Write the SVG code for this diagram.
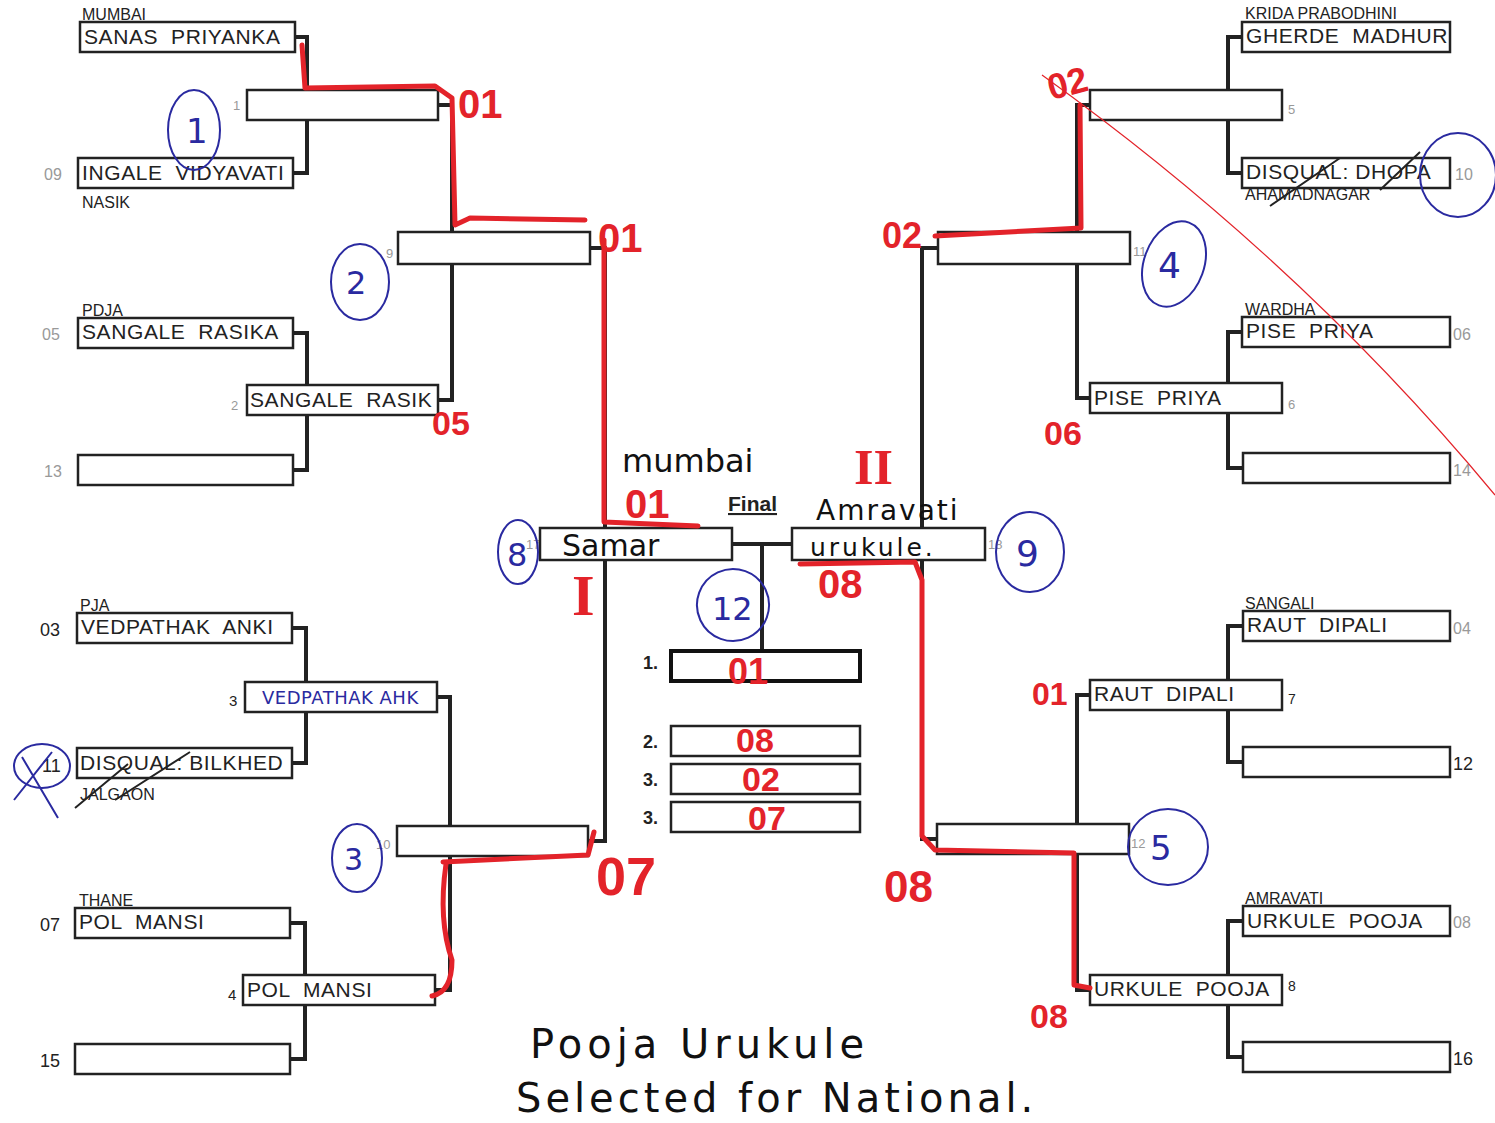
<svg xmlns="http://www.w3.org/2000/svg" width="1495" height="1123" viewBox="0 0 1495 1123">
<style>
.bx{fill:#fff;stroke:#222;stroke-width:2.5}
.bw{fill:#fff;stroke:#111;stroke-width:4}
.nm{font-family:"Liberation Sans",Arial,sans-serif;font-size:21px;letter-spacing:0.6px;fill:#222;white-space:pre}
.ct{font-family:"Liberation Sans",Arial,sans-serif;font-size:16px;fill:#222}
.sd{font-family:"Liberation Sans",Arial,sans-serif;font-size:16px;fill:#999}
.sk{font-family:"Liberation Sans",Arial,sans-serif;font-size:18px;fill:#222}
.sm{font-family:"Liberation Sans",Arial,sans-serif;font-size:13px;fill:#999}
.cn{fill:none;stroke:#222;stroke-width:4}
.rd{fill:none;stroke:#e3232a;stroke-width:5;stroke-linecap:round;stroke-linejoin:round}
.rt{font-family:"Liberation Sans",Arial,sans-serif;font-weight:bold;fill:#e3232a}
.bc{fill:none;stroke:#2a2aa0;stroke-width:2}
.bt{font-family:"DejaVu Sans",sans-serif;fill:#2a2aa0}
.hw{font-family:"DejaVu Sans",sans-serif;fill:#111}
</style>
<rect width="1495" height="1123" fill="#fff"/>
<g id="connectors">
<path class="cn" d="M295,37 H307 V173 H293"/>
<path class="cn" d="M293,333 H307 V470 H293"/>
<path class="cn" d="M292,628 H306 V763 H292"/>
<path class="cn" d="M290,923 H305 V1059 H290"/>
<path class="cn" d="M438,105 H452 V400 H438"/>
<path class="cn" d="M437,697 H450 V990 H435"/>
<path class="cn" d="M590,248 H605 V841 H588"/>
<path class="cn" d="M1242,37 H1228 V173 H1242"/>
<path class="cn" d="M1242,332 H1228 V468 H1243"/>
<path class="cn" d="M1243,626 H1228 V762 H1243"/>
<path class="cn" d="M1243,921 H1228 V1057 H1243"/>
<path class="cn" d="M1090,105 H1077 V398 H1090"/>
<path class="cn" d="M1090,695 H1077 V990 H1090"/>
<path class="cn" d="M938,248 H922 V839 H937"/>
<path class="cn" d="M732,544 H792"/>
<path class="cn" d="M762,544 V650"/>
</g>
<g id="left-r1">
<g id="n-sanas"><text class="ct" x="82" y="20">MUMBAI</text><rect class="bx" x="80" y="22" width="215" height="30"/><text class="nm" x="84" y="44">SANAS  PRIYANKA</text></g>
<g id="n-ingale"><text class="sd" x="44" y="180">09</text><rect class="bx" x="78" y="158" width="215" height="30"/><text class="nm" x="82" y="180">INGALE  VIDYAVATI</text><text class="ct" x="82" y="208">NASIK</text></g>
<g id="n-sangale"><text class="ct" x="82" y="316">PDJA</text><text class="sd" x="42" y="340">05</text><rect class="bx" x="78" y="318" width="215" height="30"/><text class="nm" x="82" y="339">SANGALE  RASIKA</text></g>
<g id="n-13"><text class="sd" x="44" y="477">13</text><rect class="bx" x="78" y="455" width="215" height="30"/></g>
<g id="n-vedpathak"><text class="ct" x="80" y="611">PJA</text><text class="sk" x="40" y="636">03</text><rect class="bx" x="77" y="613" width="215" height="30"/><text class="nm" x="81" y="634">VEDPATHAK  ANKI</text></g>
<g id="n-bilkhed"><text class="sk" x="42" y="772">11</text><rect class="bx" x="77" y="748" width="215" height="30"/><text class="nm" x="80" y="770">DISQUAL: BILKHED</text><text class="ct" x="80" y="800">JALGAON</text></g>
<g id="n-pol"><text class="ct" x="79" y="906">THANE</text><text class="sk" x="40" y="931">07</text><rect class="bx" x="75" y="908" width="215" height="30"/><text class="nm" x="79" y="929">POL  MANSI</text></g>
<g id="n-15"><text class="sk" x="40" y="1067">15</text><rect class="bx" x="75" y="1044" width="215" height="30"/></g>
</g>
<g id="left-r2">
<g id="n-1"><text class="sm" x="233" y="110">1</text><rect class="bx" x="247" y="90" width="191" height="30"/></g>
<g id="n-2"><text class="sm" x="231" y="410">2</text><rect class="bx" x="247" y="385" width="191" height="30"/><text class="nm" x="250" y="407">SANGALE  RASIK</text></g>
<g id="n-3"><text class="sk" x="229" y="706" style="font-size:15px">3</text><rect class="bx" x="245" y="682" width="192" height="30"/><text class="bt" x="262" y="704" style="font-size:18px;letter-spacing:0.5px">VEDPATHAK AHK</text></g>
<g id="n-4"><text class="sk" x="228" y="1000" style="font-size:15px">4</text><rect class="bx" x="243" y="975" width="192" height="30"/><text class="nm" x="247" y="997">POL  MANSI</text></g>
</g>
<g id="left-r3">
<g id="n-9"><text class="sm" x="386" y="258">9</text><rect class="bx" x="398" y="232" width="192" height="32"/></g>
<g id="n-10"><text class="sm" x="376" y="849">10</text><rect class="bx" x="397" y="826" width="191" height="30"/></g>
</g>
<g id="final">
<text x="728" y="511" style="font-family:'Liberation Sans',Arial,sans-serif;font-weight:bold;font-size:21px;text-decoration:underline;fill:#222">Final</text>
<g id="n-17"><text class="sm" x="526" y="549">17</text><rect class="bx" x="540" y="528" width="192" height="32"/><text class="hw" x="562" y="556" style="font-size:30px">Samar</text></g>
<g id="n-18"><rect class="bx" x="792" y="528" width="193" height="32"/><text class="hw" x="810" y="556" style="font-size:25px;letter-spacing:3px">urukule.</text><text class="sm" x="988" y="549">18</text></g>
<g id="n-p1"><text class="sk" x="643" y="669" style="font-weight:bold">1.</text><rect class="bw" x="671" y="651" width="189" height="30"/></g>
<g id="n-p2"><text class="sk" x="643" y="748" style="font-weight:bold">2.</text><rect class="bx" x="671" y="726" width="189" height="30"/></g>
<g id="n-p3a"><text class="sk" x="643" y="786" style="font-weight:bold">3.</text><rect class="bx" x="671" y="764" width="189" height="30"/></g>
<g id="n-p3b"><text class="sk" x="643" y="824" style="font-weight:bold">3.</text><rect class="bx" x="671" y="802" width="189" height="30"/></g>
</g>
<g id="right-r3">
<g id="n-11"><rect class="bx" x="938" y="232" width="192" height="32"/><text class="sm" x="1133" y="256">11</text></g>
<g id="n-12"><rect class="bx" x="937" y="824" width="192" height="30"/><text class="sm" x="1131" y="848">12</text></g>
</g>
<g id="right-r2">
<g id="n-5"><rect class="bx" x="1090" y="90" width="192" height="30"/><text class="sm" x="1288" y="114">5</text></g>
<g id="n-6"><rect class="bx" x="1090" y="383" width="192" height="30"/><text class="nm" x="1094" y="405">PISE  PRIYA</text><text class="sm" x="1288" y="409">6</text></g>
<g id="n-7"><rect class="bx" x="1090" y="680" width="192" height="30"/><text class="nm" x="1094" y="701">RAUT  DIPALI</text><text class="sk" x="1288" y="704" style="font-size:14px">7</text></g>
<g id="n-8"><rect class="bx" x="1090" y="975" width="192" height="30"/><text class="nm" x="1094" y="996">URKULE  POOJA</text><text class="sk" x="1288" y="991" style="font-size:14px">8</text></g>
</g>
<g id="right-r1">
<g id="n-gherde"><text class="ct" x="1245" y="19">KRIDA PRABODHINI</text><rect class="bx" x="1242" y="22" width="208" height="30"/><text class="nm" x="1246" y="43">GHERDE  MADHUR</text></g>
<g id="n-dhopa"><rect class="bx" x="1242" y="158" width="208" height="30"/><text class="nm" x="1246" y="179">DISQUAL: DHOPA</text><text class="ct" x="1245" y="200">AHAMADNAGAR</text><text class="sd" x="1455" y="180">10</text></g>
<g id="n-pise"><text class="ct" x="1245" y="315">WARDHA</text><rect class="bx" x="1242" y="317" width="208" height="30"/><text class="nm" x="1246" y="338">PISE  PRIYA</text><text class="sd" x="1453" y="340">06</text></g>
<g id="n-14"><rect class="bx" x="1243" y="453" width="207" height="30"/><text class="sd" x="1453" y="476">14</text></g>
<g id="n-raut"><text class="ct" x="1245" y="609">SANGALI</text><rect class="bx" x="1243" y="611" width="207" height="30"/><text class="nm" x="1247" y="632">RAUT  DIPALI</text><text class="sd" x="1453" y="634">04</text></g>
<g id="n-12r"><rect class="bx" x="1243" y="747" width="207" height="30"/><text class="sk" x="1453" y="770">12</text></g>
<g id="n-urkule"><text class="ct" x="1245" y="904">AMRAVATI</text><rect class="bx" x="1243" y="906" width="207" height="30"/><text class="nm" x="1247" y="928">URKULE  POOJA</text><text class="sd" x="1453" y="928">08</text></g>
<g id="n-16"><rect class="bx" x="1243" y="1042" width="207" height="30"/><text class="sk" x="1453" y="1065">16</text></g>
</g>
<g id="red-annotations">
<path class="rd" d="M302,45 L305,88 L435,86 L452,98 L455,225 L470,218 L585,220"/>
<path class="rd" d="M604,240 L604,522 L698,526"/>
<path class="rd" d="M1080,105 L1081,228 L935,236"/>
<path class="rd" d="M800,564 L915,562 L922,580 L922,836 L935,850 L1074,853 L1074,985 L1090,988"/>
<path class="rd" d="M443,862 L588,855 L594,832"/>
<path class="rd" d="M446,864 Q438,920 452,960 Q452,992 432,996"/>
<path d="M1042,75 Q1300,260 1495,495" fill="none" stroke="#e3232a" stroke-width="1.2"/>
<text class="rt" x="458" y="118" style="font-size:40px">01</text>
<text class="rt" x="598" y="252" style="font-size:40px">01</text>
<text class="rt" x="432" y="435" style="font-size:34px">05</text>
<text class="rt" x="1048" y="95" style="font-size:36px" transform="rotate(-15 1070 85)">02</text>
<text class="rt" x="882" y="248" style="font-size:36px">02</text>
<text class="rt" x="1044" y="445" style="font-size:34px">06</text>
<text class="rt" x="625" y="518" style="font-size:40px">01</text>
<text class="rt" x="854" y="484" style="font-size:50px;font-family:'Liberation Serif',serif">II</text>
<text class="rt" x="572" y="615" style="font-size:58px;font-family:'Liberation Serif',serif">I</text>
<text class="rt" x="818" y="598" style="font-size:40px">08</text>
<text class="rt" x="728" y="684" style="font-size:36px">01</text>
<text class="rt" x="736" y="752" style="font-size:34px">08</text>
<text class="rt" x="742" y="791" style="font-size:34px">02</text>
<text class="rt" x="748" y="830" style="font-size:34px">07</text>
<text class="rt" x="596" y="895" style="font-size:54px">07</text>
<text class="rt" x="884" y="902" style="font-size:44px">08</text>
<text class="rt" x="1032" y="705" style="font-size:32px">01</text>
<text class="rt" x="1030" y="1028" style="font-size:34px">08</text>
</g>
<g id="blue-annotations">
<ellipse class="bc" cx="194" cy="130" rx="26" ry="40"/><text class="bt" x="186" y="143" style="font-size:34px">1</text>
<ellipse class="bc" cx="360" cy="282" rx="29" ry="38"/><text class="bt" x="346" y="294" style="font-size:32px">2</text>
<ellipse class="bc" cx="357" cy="858" rx="25" ry="34"/><text class="bt" x="344" y="870" style="font-size:30px">3</text>
<ellipse class="bc" cx="1174" cy="264" rx="30" ry="44" transform="rotate(20 1174 264)"/><text class="bt" x="1158" y="278" style="font-size:36px">4</text>
<ellipse class="bc" cx="1168" cy="847" rx="40" ry="38"/><text class="bt" x="1150" y="860" style="font-size:34px">5</text>
<ellipse class="bc" cx="518" cy="552" rx="20" ry="32"/><text class="bt" x="507" y="566" style="font-size:32px">8</text>
<ellipse class="bc" cx="1030" cy="552" rx="34" ry="40"/><text class="bt" x="1016" y="566" style="font-size:36px">9</text>
<ellipse class="bc" cx="733" cy="605" rx="36" ry="36" transform="rotate(-25 733 605)"/><text class="bt" x="712" y="620" style="font-size:32px">12</text>
<ellipse class="bc" cx="1458" cy="175" rx="38" ry="42"/>
<ellipse class="bc" cx="42" cy="766" rx="28" ry="22"/>
<path class="bc" d="M14,800 L52,752 M22,757 L58,818"/>
</g>
<g id="black-annotations">
<path d="M75,808 L128,764 M115,800 L190,752" stroke="#222" stroke-width="2" fill="none"/>
<path d="M1270,206 L1340,158 M1380,190 L1420,152" stroke="#222" stroke-width="2" fill="none"/>
<text class="hw" x="622" y="472" style="font-size:32px">mumbai</text>
<text class="hw" x="816" y="520" style="font-size:28px;letter-spacing:2px">Amravati</text>
<text class="hw" x="530" y="1058" style="font-size:40px;letter-spacing:5px">Pooja Urukule</text>
<text class="hw" x="516" y="1112" style="font-size:40px;letter-spacing:4px">Selected for National.</text>
</g>
</svg>
